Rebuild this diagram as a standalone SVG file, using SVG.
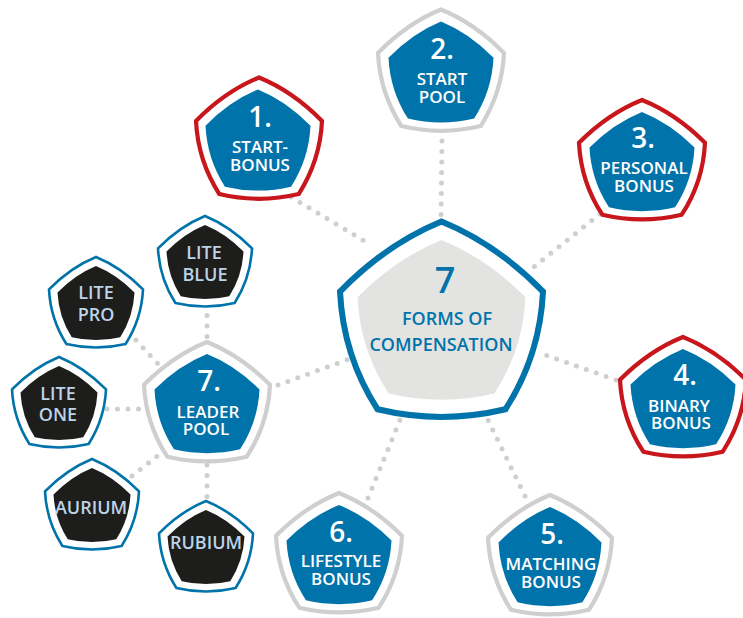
<svg xmlns="http://www.w3.org/2000/svg" width="743" height="618" viewBox="0 0 743 618">
<style>
text{font-family:"Open Sans","Noto Sans","Liberation Sans",sans-serif;text-anchor:middle;font-weight:600}
.o{fill:#fff;stroke-width:4.2}
.g{stroke:#cfcfcf}.r{stroke:#c8161d}.b{stroke:#0073aa;stroke-width:2.6}
.i{fill:#0073aa;stroke:none}.k{fill:#1d1d1b;stroke:none}
.n{fill:#fff;font-size:28px}.l{fill:#fff;font-size:17px}.d{fill:#bcd3e8;font-size:18px}
.c{fill:#0073aa}
#conn line{stroke:#cfcfcf;stroke-width:5;stroke-linecap:round;stroke-dasharray:0 10.5}
</style>
<defs>
<path id="p" vector-effect="non-scaling-stroke" d="M0 0Q27 11 50 34.5Q48.500 66 31.500 92.500Q0 100 -31.500 92.500Q-48.500 66 -50 34.5Q-27 11 0 0Z"/>
</defs>
<g id="conn">
<line x1="291" y1="197" x2="366" y2="242"/>
<line x1="442" y1="141" x2="441" y2="218"/>
<line x1="600" y1="214" x2="530" y2="270"/>
<line x1="616" y1="380" x2="540" y2="353"/>
<line x1="525" y1="496" x2="488" y2="420"/>
<line x1="368" y1="498" x2="400" y2="420"/>
<line x1="278" y1="385" x2="352" y2="358"/>
<line x1="207" y1="305" x2="207" y2="342"/>
<line x1="136" y1="340" x2="160" y2="366"/>
<line x1="107" y1="409" x2="145" y2="409"/>
<line x1="132" y1="476" x2="165" y2="450"/>
<line x1="207" y1="465" x2="207" y2="503"/>
</g>
<g id="center">
<use href="#p" style="fill:#fff;stroke:#0073aa;stroke-width:6" transform="translate(441.500 221.500) scale(2.03 2.03)"/>
<use href="#p" style="fill:#e3e3e2" transform="translate(441.500 240) scale(1.68 1.66)"/>
<text x="445" y="293" class="c" style="font-size:36px">7</text>
<text x="447" y="325" class="c" style="font-size:18px">FORMS OF</text>
<text x="441" y="351" class="c" style="font-size:18px">COMPENSATION</text>
</g>
<g id="n1"><use href="#p" class="o r" transform="translate(259 77.500) scale(1.26 1.26)"/><use href="#p" class="i" transform="translate(258 89.500) scale(1.05 1.05)"/><text x="260" y="127" class="n">1.</text><text x="260" y="153" class="l">START-</text><text x="260" y="171" class="l">BONUS</text></g>
<g id="n2"><use href="#p" class="o g" transform="translate(441 9.500) scale(1.26 1.26)"/><use href="#p" class="i" transform="translate(441 21.500) scale(1.05 1.05)"/><text x="442" y="59" class="n">2.</text><text x="442" y="85" class="l">START</text><text x="442" y="103" class="l">POOL</text></g>
<g id="n3"><use href="#p" class="o r" transform="translate(642 100) scale(1.26 1.24)"/><use href="#p" class="i" transform="translate(642 112) scale(1.05 1.03)"/><text x="643" y="148" class="n">3.</text><text x="644" y="174" class="l">PERSONAL</text><text x="644" y="192" class="l">BONUS</text></g>
<g id="n4"><use href="#p" class="o r" transform="translate(683 337) scale(1.26 1.24)"/><use href="#p" class="i" transform="translate(683 349) scale(1.05 1.03)"/><text x="685" y="385" class="n">4.</text><text x="679" y="412" class="l">BINARY</text><text x="681" y="429" class="l">BONUS</text></g>
<g id="n5"><use href="#p" class="o g" transform="translate(550 495) scale(1.24 1.24)"/><use href="#p" class="i" transform="translate(550 507) scale(1.03 1.03)"/><text x="552" y="544" class="n">5.</text><text x="551" y="570" class="l">MATCHING</text><text x="551" y="588" class="l">BONUS</text></g>
<g id="n6"><use href="#p" class="o g" transform="translate(339 493) scale(1.26 1.24)"/><use href="#p" class="i" transform="translate(339 505) scale(1.05 1.03)"/><text x="341" y="542" class="n">6.</text><text x="341" y="567" class="l">LIFESTYLE</text><text x="341" y="585" class="l">BONUS</text></g>
<g id="n7"><use href="#p" class="o g" transform="translate(207 342) scale(1.26 1.24)"/><use href="#p" class="i" transform="translate(207 354) scale(1.05 1.03)"/><text x="209" y="391" class="n">7.</text><text x="208" y="418" class="l">LEADER</text><text x="206" y="435" class="l">POOL</text></g>
<g id="liteblue"><use href="#p" class="o b" transform="translate(205 216) scale(.94 .94)"/><use href="#p" class="k" transform="translate(205 225) scale(.77 .77)"/><text x="204" y="259" class="d">LITE</text><text x="205" y="281" class="d">BLUE</text></g>
<g id="litepro"><use href="#p" class="o b" transform="translate(96 257) scale(.94 .94)"/><use href="#p" class="k" transform="translate(96 266) scale(.77 .77)"/><text x="96" y="299" class="d">LITE</text><text x="96" y="321" class="d">PRO</text></g>
<g id="liteone"><use href="#p" class="o b" transform="translate(59 357) scale(.94 .94)"/><use href="#p" class="k" transform="translate(59 366) scale(.77 .77)"/><text x="58" y="400" class="d">LITE</text><text x="58" y="421" class="d">ONE</text></g>
<g id="aurium"><use href="#p" class="o b" transform="translate(92 459) scale(.94 .94)"/><use href="#p" class="k" transform="translate(92 468) scale(.77 .77)"/><text x="91" y="514" class="d">AURIUM</text></g>
<g id="rubium"><use href="#p" class="o b" transform="translate(206 501) scale(.94 .94)"/><use href="#p" class="k" transform="translate(206 510) scale(.77 .77)"/><text x="206" y="549" class="d">RUBIUM</text></g>
</svg>
